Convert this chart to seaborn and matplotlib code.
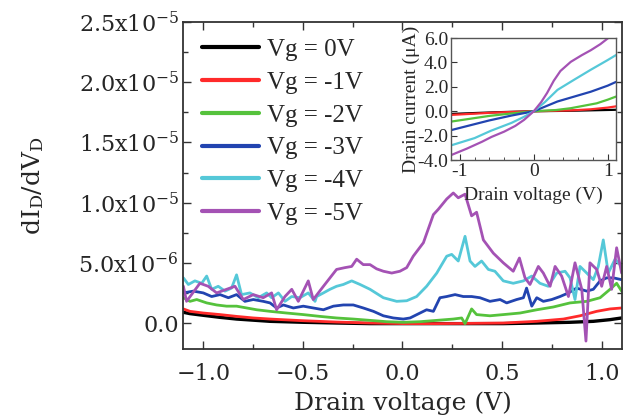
import matplotlib
matplotlib.use("Agg")
import matplotlib.pyplot as plt
import seaborn as sns
import pandas as pd
from matplotlib.ticker import MultipleLocator

# ---------------- data (main: dI/dV in units of 1e-6) ----------------
labels = ["Vg = 0V", "Vg = -1V", "Vg = -2V", "Vg = -3V", "Vg = -4V", "Vg = -5V"]
colors = ["#000000", "#ff2a2a", "#55c23c", "#2244b0", "#55c8d8", "#a452b4"]

v0 = [-1.100, -1.067, -1.000, -0.916, -0.833, -0.665, -0.498, -0.331, -0.163, 0.172, 0.506, 0.674, 0.841, 0.958, 1.042, 1.100]
g0 = [0.89, 0.78, 0.64, 0.47, 0.33, 0.14, 0.06, 0.0, -0.05, -0.05, -0.05, 0.0, 0.06, 0.14, 0.28, 0.42]

v1 = [-1.100, -1.067, -1.000, -0.916, -0.833, -0.749, -0.665, -0.498, -0.331, -0.163, 0.004, 0.172, 0.339, 0.506, 0.674, 0.808, 0.891, 0.975, 1.042, 1.100]
g1 = [1.17, 0.97, 0.83, 0.70, 0.55, 0.42, 0.33, 0.19, 0.08, 0.0, -0.05, -0.05, -0.03, 0.0, 0.14, 0.33, 0.60, 0.97, 1.17, 1.25]

v2 = [-1.100, -1.067, -1.033, -0.983, -0.933, -0.883, -0.833, -0.782, -0.732, -0.665, -0.582, -0.498, -0.414, -0.331, -0.247, -0.163, -0.079, 0.004, 0.088, 0.172, 0.255, 0.297, 0.314, 0.347, 0.372, 0.439, 0.506, 0.590, 0.674, 0.757, 0.841, 0.925, 0.992, 1.042, 1.075, 1.100]
g2 = [2.10, 1.80, 1.95, 1.67, 1.50, 1.40, 1.40, 1.25, 1.10, 0.97, 0.83, 0.70, 0.55, 0.42, 0.33, 0.22, 0.11, 0.06, 0.11, 0.22, 0.33, 0.42, -0.05, 1.17, 0.70, 0.60, 0.70, 0.83, 1.10, 1.33, 1.67, 1.80, 2.10, 2.80, 3.30, 2.65]

v3 = [-1.100, -1.050, -1.000, -0.958, -0.916, -0.874, -0.833, -0.791, -0.749, -0.699, -0.665, -0.632, -0.598, -0.548, -0.498, -0.448, -0.397, -0.347, -0.297, -0.247, -0.197, -0.146, -0.096, -0.046, 0.004, 0.038, 0.088, 0.121, 0.155, 0.188, 0.222, 0.264, 0.305, 0.347, 0.389, 0.439, 0.490, 0.523, 0.573, 0.607, 0.623, 0.649, 0.674, 0.707, 0.749, 0.791, 0.833, 0.874, 0.925, 0.958, 0.992, 1.025, 1.059, 1.100]
g3 = [2.50, 2.65, 2.50, 2.20, 2.36, 2.10, 2.36, 1.80, 1.95, 1.80, 1.67, 1.25, 1.50, 1.25, 1.40, 1.25, 1.10, 1.40, 1.50, 1.50, 1.25, 0.97, 0.60, 0.42, 0.33, 0.42, 0.83, 1.10, 0.97, 2.10, 2.20, 2.36, 2.20, 2.20, 2.10, 1.80, 1.95, 1.67, 1.95, 2.10, 2.90, 1.40, 2.10, 1.80, 1.95, 2.20, 2.50, 2.90, 2.65, 2.80, 3.50, 3.75, 3.75, 3.60]

v4 = [-1.100, -1.075, -1.042, -1.008, -0.983, -0.958, -0.925, -0.891, -0.858, -0.833, -0.808, -0.766, -0.724, -0.682, -0.657, -0.623, -0.590, -0.556, -0.515, -0.473, -0.439, -0.431, -0.397, -0.364, -0.331, -0.297, -0.255, -0.213, -0.163, -0.096, -0.029, 0.021, 0.071, 0.121, 0.172, 0.222, 0.247, 0.280, 0.314, 0.339, 0.364, 0.397, 0.431, 0.464, 0.506, 0.556, 0.607, 0.649, 0.690, 0.732, 0.774, 0.816, 0.841, 0.866, 0.891, 0.925, 0.958, 0.983, 1.008, 1.033, 1.067, 1.100]
g4 = [3.75, 3.20, 3.50, 3.30, 3.90, 2.80, 3.05, 2.65, 2.90, 4.00, 2.36, 2.50, 2.10, 2.50, 2.10, 2.50, 1.80, 2.20, 2.10, 2.50, 1.80, 2.20, 2.50, 2.80, 3.05, 3.20, 3.50, 3.20, 2.80, 2.10, 1.80, 1.85, 2.20, 3.05, 4.15, 5.55, 5.70, 5.15, 7.20, 5.15, 4.70, 5.15, 4.45, 4.30, 3.50, 3.30, 3.50, 3.90, 3.30, 3.05, 4.15, 4.30, 3.75, 1.95, 4.70, 4.15, 3.60, 4.70, 6.90, 4.15, 5.30, 4.70]

v5 = [-1.100, -1.084, -1.017, -0.975, -0.933, -0.883, -0.841, -0.799, -0.749, -0.699, -0.657, -0.632, -0.590, -0.556, -0.523, -0.473, -0.448, -0.397, -0.364, -0.331, -0.289, -0.255, -0.230, -0.197, -0.163, -0.130, -0.096, -0.054, -0.013, 0.021, 0.054, 0.105, 0.155, 0.180, 0.222, 0.255, 0.280, 0.314, 0.347, 0.372, 0.406, 0.456, 0.506, 0.556, 0.587, 0.615, 0.640, 0.682, 0.707, 0.741, 0.766, 0.799, 0.833, 0.866, 0.900, 0.921, 0.941, 0.975, 1.000, 1.025, 1.050, 1.075, 1.100]
g5 = [3.06, 1.80, 3.30, 3.05, 2.50, 2.80, 3.05, 1.95, 2.36, 2.10, 2.50, 1.10, 2.20, 2.80, 1.80, 3.50, 1.95, 3.05, 3.75, 4.45, 4.60, 4.70, 5.30, 4.85, 4.85, 4.50, 4.30, 4.15, 4.30, 4.60, 5.55, 6.67, 9.00, 9.45, 10.30, 10.80, 10.40, 10.70, 8.90, 9.20, 6.90, 5.80, 5.00, 4.30, 5.40, 3.75, 3.20, 4.70, 4.15, 3.05, 4.70, 3.90, 2.20, 5.00, 2.80, -1.50, 5.00, 4.45, 3.05, 4.70, 2.80, 6.25, 4.15]

main_v = [v0, v1, v2, v3, v4, v5]
main_g = [g0, g1, g2, g3, g4, g5]

# ---------------- data (inset: I-V, current in uA) ----------------
iv0_v = [-1.12, -0.5, 0.0, 0.5, 1.11]
iv0_i = [-0.22, -0.08, 0.0, 0.04, 0.12]
iv1_v = [-1.12, -0.5, 0.0, 0.5, 0.77, 1.0, 1.11]
iv1_i = [-0.30, -0.10, 0.0, 0.07, 0.16, 0.30, 0.40]
iv2_v = [-1.12, -0.6, -0.3, 0.0, 0.3, 0.5, 0.85, 1.0, 1.11]
iv2_i = [-0.85, -0.38, -0.18, 0.0, 0.10, 0.25, 0.65, 0.95, 1.20]
iv3_v = [-1.12, -0.6, -0.3, 0.0, 0.32, 0.77, 1.0, 1.11]
iv3_i = [-1.55, -0.75, -0.35, 0.0, 0.80, 1.60, 2.10, 2.40]
iv4_v = [-1.12, -0.8, -0.58, -0.3, -0.13, 0.0, 0.15, 0.32, 0.55, 0.77, 1.0, 1.11]
iv4_i = [-2.80, -2.20, -1.60, -0.95, -0.45, 0.0, 0.75, 1.75, 2.60, 3.40, 4.20, 4.60]
iv5_v = [-1.12, -0.9, -0.7, -0.57, -0.4, -0.25, -0.13, 0.0, 0.1, 0.18, 0.27, 0.36, 0.5, 0.65, 0.77, 0.9, 1.0, 1.12]
iv5_i = [-3.60, -3.05, -2.50, -2.10, -1.67, -1.20, -0.70, 0.0, 0.75, 1.50, 2.50, 3.30, 4.05, 4.60, 5.00, 5.50, 5.97, 6.50]
inset_v = [iv0_v, iv1_v, iv2_v, iv3_v, iv4_v, iv5_v]
inset_i = [iv0_i, iv1_i, iv2_i, iv3_i, iv4_i, iv5_i]

main_xticks = [-1.0, -0.5, 0.0, 0.5, 1.0]
main_xticklabels = ["\u22121.0", "\u22120.5", "0.0", "0.5", "1.0"]
main_yticks = [0.0, 5e-6, 1e-5, 1.5e-5, 2e-5, 2.5e-5]
main_yticklabels = ["0.0", "5.0x10$^{\u22126}$", "1.0x10$^{\u22125}$", "1.5x10$^{\u22125}$",
                    "2.0x10$^{\u22125}$", "2.5x10$^{\u22125}$"]
inset_xticks = [-1, 0, 1]
inset_xticklabels = ["-1", "0", "1"]
inset_yticks = [-4, -2, 0, 2, 4, 6]
inset_yticklabels = ["-4.0", "-2.0", "0.0", "2.0", "4.0", "6.0"]

# ---------------- style ----------------
sns.set_style("ticks")
plt.rcParams["font.family"] = ["DejaVu Serif"]
plt.rcParams["mathtext.fontset"] = "dejavuserif"

fig = plt.figure(figsize=(6.36, 4.19), dpi=100)
ax = fig.add_axes([0.2877, 0.167, 0.6903, 0.7805])

widths = [2.4, 2.0, 2.0, 2.0, 2.0, 2.0]
for v, g, lab, c, w in zip(main_v, main_g, labels, colors, widths):
    df = pd.DataFrame({"V": v, "G": [x * 1e-6 for x in g]})
    sns.lineplot(data=df, x="V", y="G", ax=ax, color=c, lw=w, label=lab)

ax.set_xlim(-1.102, 1.102)
ax.set_ylim(-2.16e-6, 2.5e-5)
ax.set_xticks(main_xticks, main_xticklabels)
ax.set_yticks(main_yticks, main_yticklabels)
ax.xaxis.set_minor_locator(MultipleLocator(0.25))
ax.yaxis.set_minor_locator(MultipleLocator(2.5e-6))
ax.tick_params(which="both", direction="in", top=True, right=True, labelsize=16,
               color="#333333", width=1.0)
ax.tick_params(which="major", length=6)
ax.tick_params(which="minor", length=3.5)
ax.tick_params(axis="x", which="major", pad=10)
ax.tick_params(axis="y", which="major", pad=3)
for s in ax.spines.values():
    s.set_linewidth(1.3)
    s.set_color("#333333")
ax.set_xlabel("Drain voltage (V)", fontsize=18, labelpad=5)
ax.set_ylabel("dI$_\\mathregular{D}$/dV$_\\mathregular{D}$", fontsize=18, labelpad=23)

leg = ax.legend(loc="upper left", bbox_to_anchor=(0.043, 0.949), frameon=False,
                prop={"family": "Liberation Serif", "size": 18},
                handlelength=2.3, handletextpad=0.3, labelspacing=0.41,
                borderpad=0, borderaxespad=0)
for h in leg.get_lines():
    h.set_linewidth(3.0)

# ---------------- inset ----------------
ins = fig.add_axes([0.709, 0.618, 0.2594, 0.2912])
for v, i, c in zip(inset_v, inset_i, colors):
    df = pd.DataFrame({"V": v, "I": i})
    sns.lineplot(data=df, x="V", y="I", ax=ins, color=c, lw=1.6, legend=False)
ins.set_xlim(-1.12, 1.11)
ins.set_ylim(-4, 6)
ins.set_xticks(inset_xticks, inset_xticklabels)
ins.set_yticks(inset_yticks, inset_yticklabels)
ins.xaxis.set_minor_locator(MultipleLocator(0.2))
ins.tick_params(which="both", direction="in", labelsize=14, pad=2, color="#333333")
ins.tick_params(which="major", length=4)
ins.tick_params(which="minor", length=2)
for t in ins.get_xticklabels() + ins.get_yticklabels():
    t.set_family("Liberation Serif")
for s in ins.spines.values():
    s.set_linewidth(1.0)
    s.set_color("#555555")
ins.set_xlabel("Drain voltage (V)", fontsize=14, family="Liberation Serif", labelpad=5)
ins.set_ylabel("Drain current (\u03bcA)", fontsize=14, family="Liberation Serif", labelpad=-2)

fig.savefig("out.png", dpi=100)
